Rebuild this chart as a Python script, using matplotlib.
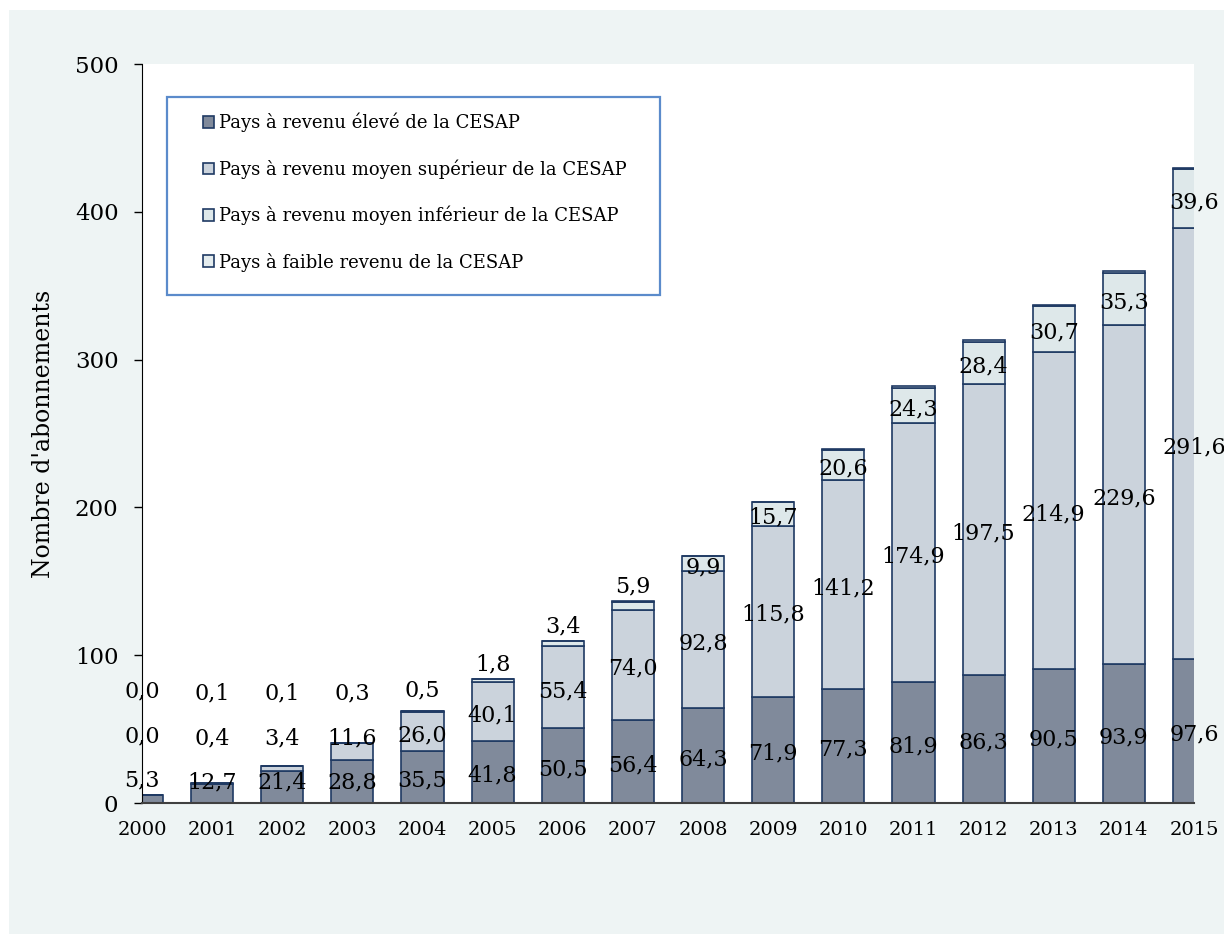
import matplotlib
matplotlib.use("Agg")
import matplotlib.pyplot as plt
from matplotlib.patches import Rectangle

years = list(range(2000, 2016))
high = [5.3, 12.7, 21.4, 28.8, 35.5, 41.8, 50.5, 56.4, 64.3, 71.9, 77.3, 81.9, 86.3, 90.5, 93.9, 97.6]
upper_mid = [0.0, 0.4, 3.4, 11.6, 26.0, 40.1, 55.4, 74.0, 92.8, 115.8, 141.2, 174.9, 197.5, 214.9, 229.6, 291.6]
lower_mid = [0.0, 0.1, 0.1, 0.3, 0.5, 1.8, 3.4, 5.9, 9.9, 15.7, 20.6, 24.3, 28.4, 30.7, 35.3, 39.6]
low = [0.0, 0.0, 0.1, 0.1, 0.1, 0.1, 0.2, 0.3, 0.4, 0.5, 0.6, 0.7, 0.8, 0.8, 0.9, 1.0]

names = ["Pays à revenu élevé de la CESAP",
         "Pays à revenu moyen supérieur de la CESAP",
         "Pays à revenu moyen inférieur de la CESAP",
         "Pays à faible revenu de la CESAP"]
colors = ["#808A9B", "#CBD3DC", "#DEE8EA", "#E4ECEE"]
edge = "#1F3A63"
serif = "DejaVu Serif"

fig = plt.figure(figsize=(12.24, 9.34), dpi=100)
fig.patches.append(Rectangle((9 / 1224, 0), 1, 924 / 934, transform=fig.transFigure,
                             facecolor="#EEF4F4", edgecolor="none", zorder=-10))
ax = fig.add_axes([142 / 1224, 131 / 934, 1052 / 1224, 739 / 934])

series = [high, upper_mid, lower_mid, low]
bottom = [0.0] * len(years)
for vals, name, col in zip(series, names, colors):
    ax.bar(years, vals, bottom=bottom, width=0.6, color=col, edgecolor=edge,
           linewidth=1.2, label=name, zorder=2)
    bottom = [b + v for b, v in zip(bottom, vals)]

# data labels (three first series), pushed up when segments are too small
for i, yr in enumerate(years):
    base = 0.0
    prev = -1e9
    for k, vals in enumerate(series[:3]):
        v = vals[i]
        if v < 8:
            y = base + v + 10
        else:
            y = base + v / 2 - 2.5
        y = max(y, prev + 30, 14)
        ax.text(yr, y, f"{v:.1f}".replace(".", ","), ha="center", va="center",
                fontsize=16, family=serif, color="black", zorder=5, clip_on=False)
        prev = y
        base += v

ax.set_xlim(2000, 2015)
ax.set_ylim(0, 500)
ax.set_xticks(years)
ax.set_xticklabels([str(y) for y in years], family=serif, fontsize=14)
ax.set_yticks(range(0, 501, 100))
ax.set_yticklabels([str(v) for v in range(0, 501, 100)], family=serif, fontsize=16.5)
ax.tick_params(axis="x", length=0, pad=13)
ax.tick_params(axis="y", length=6, width=1, direction="out", pad=11)
for s in ["top", "right"]:
    ax.spines[s].set_visible(False)
ax.spines["left"].set_color("black")
ax.spines["bottom"].set_color("#404040")
ax.spines["bottom"].set_linewidth(1.5)

ax.set_ylabel("Nombre d'abonnements", family=serif, fontsize=17)
ax.yaxis.set_label_coords(-0.083, 0.5)

ax.add_patch(Rectangle((0.0238, 0.6874), 0.4686, 0.268, transform=ax.transAxes,
                       facecolor="white", edgecolor="#5B8BCB", linewidth=1.6, zorder=6))
leg = ax.legend(loc="upper left", bbox_to_anchor=(0.058, 0.934), frameon=False,
                prop={"family": serif, "size": 13}, handlelength=0.6, handleheight=0.6,
                handletextpad=0.3, labelspacing=1.5, borderpad=0, borderaxespad=0)
leg.set_zorder(7)

fig.savefig("out.png", dpi=100)
